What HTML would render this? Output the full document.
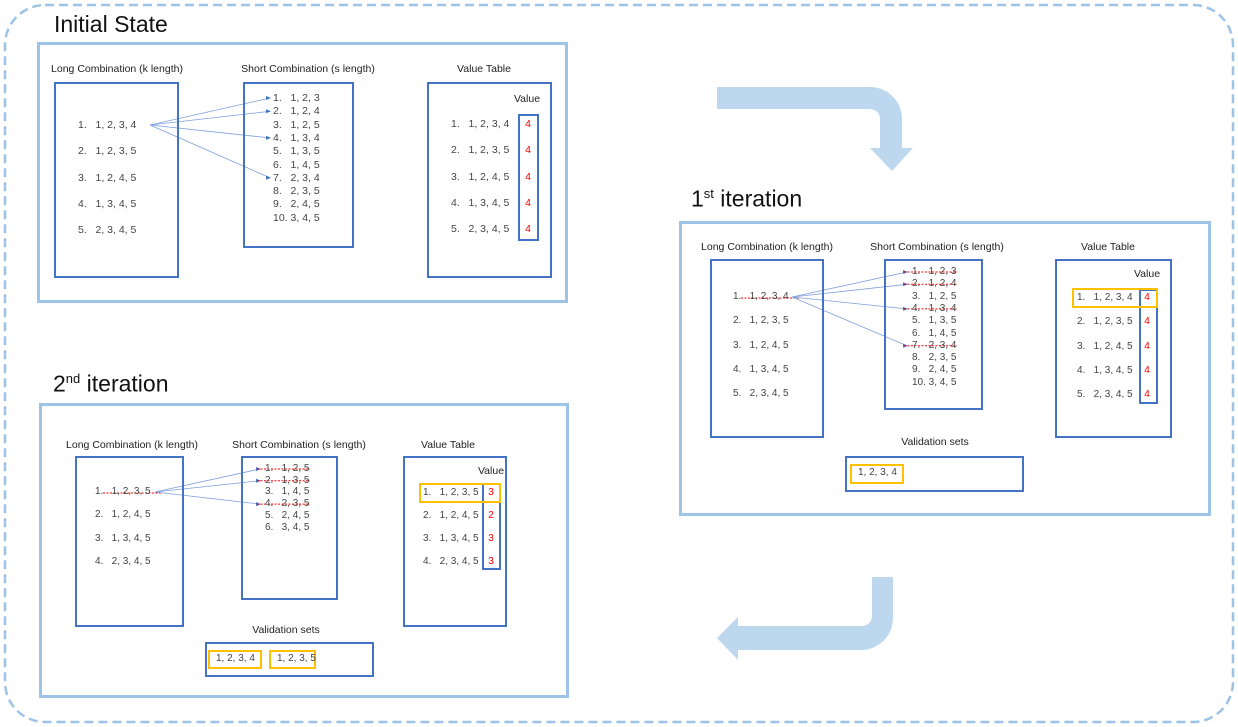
<!DOCTYPE html>
<html><head><meta charset="utf-8">
<style>
html,body{margin:0;padding:0;background:#fff;}
#root{position:relative;width:1238px;height:727px;overflow:hidden;font-family:"Liberation Sans","Noto Sans CJK SC",sans-serif;color:#333;}
.panel{position:absolute;border:3px solid #9dc3e6;box-sizing:border-box;}
.box{position:absolute;border:2px solid #4472c4;box-sizing:border-box;}
.ybox{position:absolute;border:2px solid #ffc000;box-sizing:border-box;}
.title{position:absolute;font-size:23px;color:#111;white-space:nowrap;line-height:1;}
.hdr{position:absolute;font-size:10.5px;color:#222;white-space:nowrap;transform:translateX(-50%);line-height:1;}
.item{position:absolute;font-size:10.5px;color:#444;white-space:nowrap;line-height:1;}
.val{position:absolute;font-size:10.5px;color:#ff0000;line-height:1;transform:translateX(-50%);}
svg{position:absolute;left:0;top:0;}
</style></head>
<body>
<div id="root">
<svg width="1238" height="727">
  <rect x="5" y="5" width="1228" height="717" rx="40" ry="40" fill="none" stroke="#9dc3e6" stroke-width="2.5" stroke-dasharray="9 5"/>
</svg>

<div class="title" style="left:54px;top:13px">Initial State</div>
<div class="panel" style="left:37px;top:42px;width:531px;height:261px"></div>

<div class="title" style="left:691px;top:187px">1<sup style="font-size:13px">st</sup> iteration</div>
<div class="panel" style="left:679px;top:221px;width:532px;height:295px"></div>

<div class="title" style="left:53px;top:372px">2<sup style="font-size:13px">nd</sup> iteration</div>
<div class="panel" style="left:39px;top:403px;width:530px;height:295px"></div>

<svg width="1238" height="727">
  <path d="M717 87 H870 A32 32 0 0 1 902 119 V148 H913 L892 171 L870 148 H880 V119 A10 10 0 0 0 870 109 H717 Z" fill="#bdd7ee"/>
  <path d="M893 577 V618 A32 32 0 0 1 861 650 H738 V660 L717 638 L738 617 V626 H861 A10 10 0 0 0 872 616 V577 Z" fill="#bdd7ee"/>
</svg>
<svg id="lines" width="1238" height="727"></svg>
</div>

<script>
const root=document.getElementById('root');
const lines=document.getElementById('lines');
const NS='http://www.w3.org/2000/svg';
function div(cls,x,y,w,h,txt){const d=document.createElement('div');d.className=cls;d.style.left=x+'px';d.style.top=y+'px';if(w!=null){d.style.width=w+'px';d.style.height=h+'px';}if(txt!=null)d.textContent=txt;root.appendChild(d);return d;}
function line(x1,y1,x2,y2,color,dash,w){const l=document.createElementNS(NS,'line');l.setAttribute('x1',x1);l.setAttribute('y1',y1);l.setAttribute('x2',x2);l.setAttribute('y2',y2);l.setAttribute('stroke',color);l.setAttribute('stroke-width',w||0.8);if(dash)l.setAttribute('stroke-dasharray',dash);lines.appendChild(l);return l;}
function arrowhead(x,y){const p=document.createElementNS(NS,'polygon');p.setAttribute('points',`${x},${y} ${x-5},${y-2} ${x-5},${y+2}`);p.setAttribute('fill','#4472c4');lines.appendChild(p);return p;}

const longSets=[["1, 2, 3, 4","1, 2, 3, 5","1, 2, 4, 5","1, 3, 4, 5","2, 3, 4, 5"],["1, 2, 3, 4","1, 2, 3, 5","1, 2, 4, 5","1, 3, 4, 5","2, 3, 4, 5"],["1, 2, 3, 5","1, 2, 4, 5","1, 3, 4, 5","2, 3, 4, 5"]];
const shortSets=[["1, 2, 3","1, 2, 4","1, 2, 5","1, 3, 4","1, 3, 5","1, 4, 5","2, 3, 4","2, 3, 5","2, 4, 5","3, 4, 5"],["1, 2, 3","1, 2, 4","1, 2, 5","1, 3, 4","1, 3, 5","1, 4, 5","2, 3, 4","2, 3, 5","2, 4, 5","3, 4, 5"],["1, 2, 5","1, 3, 5","1, 4, 5","2, 3, 5","2, 4, 5","3, 4, 5"]];
const tableRows=[["1, 2, 3, 4","1, 2, 3, 5","1, 2, 4, 5","1, 3, 4, 5","2, 3, 4, 5"],["1, 2, 3, 4","1, 2, 3, 5","1, 2, 4, 5","1, 3, 4, 5","2, 3, 4, 5"],["1, 2, 3, 5","1, 2, 4, 5","1, 3, 4, 5","2, 3, 4, 5"]];
const tableValues=[[4,4,4,4,4],[4,4,4,4,4],[3,2,3,3]];
const linkedShort=[[0,1,3,6],[0,1,3,6],[0,1,3]];
const crossed=[false,true,true];
const validation=[[],["1, 2, 3, 4"],["1, 2, 3, 4","1, 2, 3, 5"]];

const L=[
 {fs:10.5,lh:[117,64],lb:[54,82,125,196],li:[78,120,26.3],sh:[308,64],sb:[243,82,111,166],si:[273,93,13.3],vh:[484,64],vb:[427,82,125,196],vl:[527,94],vr:[451,119,26.3],vc:[518,114,21,127],vx:528,src:[150,125],dst:270},
 {fs:10,lh:[767,242],lb:[710,259,114,179],li:[733,292,24.3],sh:[937,242],sb:[884,259,99,151],si:[912,267,12.3],vh:[1108,242],vb:[1055,259,117,179],vl:[1147,269],vr:[1077,293,24.3],vc:[1139,289,19,115],vx:1147,src:[792,297],dst:907,hl:[1072,288,86,20],valh:[935,437],valb:[845,456,179,36],valy:[[850,464,54,20]]},
 {fs:10,lh:[132,440],lb:[75,456,109,171],li:[95,487,23.3],sh:[299,440],sb:[241,456,97,144],si:[265,464,11.7],vh:[448,440],vb:[403,456,104,171],vl:[491,466],vr:[423,488,23.1],vc:[482,483,19,87],vx:491,src:[155,492],dst:260,hl:[419,483,82,20],valh:[286,625],valb:[205,642,169,35],valy:[[208,650,54,19],[269,650,47,19]]}
];

for(let p=0;p<3;p++){
  const c=L[p];
  let e;
  e=div('hdr',c.lh[0],c.lh[1],null,null,'Long Combination (k length)');
  
  
  e=div('hdr',c.sh[0],c.sh[1],null,null,'Short Combination (s length)');
  
  
  e=div('hdr',c.vh[0],c.vh[1],null,null,'Value Table');
  
  
  e=div('box',c.lb[0],c.lb[1],c.lb[2],c.lb[3]);
  
  
  e=div('box',c.sb[0],c.sb[1],c.sb[2],c.sb[3]);
  
  
  e=div('box',c.vb[0],c.vb[1],c.vb[2],c.vb[3]);
  
  
  e=div('hdr',c.vl[0],c.vl[1],null,null,'Value');
  
  
  e=div('box',c.vc[0],c.vc[1],c.vc[2],c.vc[3]);
  
  
  if(c.hl){
    e=div('ybox',c.hl[0],c.hl[1],c.hl[2],c.hl[3]);
    
    
  }
  longSets[p].forEach((s,i)=>{
    const y=c.li[1]+i*c.li[2];
    const d=div('item',c.li[0],y,null,null,(i+1)+'.   '+s);
    d.style.whiteSpace='pre';
    d.style.fontSize=c.fs+'px';
    
    
    if(i===0&&crossed[p]) line(c.li[0]+8,y+6,c.li[0]+66,y+6,'#ff0000','2 1.5',1);
  });
  shortSets[p].forEach((s,i)=>{
    const y=c.si[1]+i*c.si[2];
    const num=(i+1)+'.';
    const d=div('item',c.si[0],y,null,null,(num.length>2?num:num+'  ')+' '+s);
    d.style.whiteSpace='pre';
    d.style.fontSize=c.fs+'px';
    
    
    if(linkedShort[p].includes(i)){
      const ty=y+5;
      line(c.src[0],c.src[1],c.dst,ty,'#7f9fdc',null,0.8);
      arrowhead(c.dst+1,ty);
      if(crossed[p]) line(c.dst-3,ty,c.dst+50,ty,'#ff0000','2 1.5',1);
    }
  });
  tableRows[p].forEach((s,i)=>{
    const y=c.vr[1]+i*c.vr[2];
    const d=div('item',c.vr[0],y,null,null,(i+1)+'.   '+s);
    d.style.whiteSpace='pre';
    d.style.fontSize=c.fs+'px';
    
    
    const v=div('val',c.vx,y,null,null,String(tableValues[p][i]));
    v.style.fontSize=c.fs+'px';
    
    
  });
  if(c.valb){
    e=div('hdr',c.valh[0],c.valh[1],null,null,'Validation sets');
    
    
    e=div('box',c.valb[0],c.valb[1],c.valb[2],c.valb[3]);
    
    
    validation[p].forEach((s,i)=>{
      const r=c.valy[i];
      const y=div('ybox',r[0],r[1],r[2],r[3]);
      
      
      const t=div('item',r[0]+8,r[1]+4,null,null,s);
      t.style.fontSize=c.fs+'px';
      
      
    });
  }
}
</script>
</body></html>
